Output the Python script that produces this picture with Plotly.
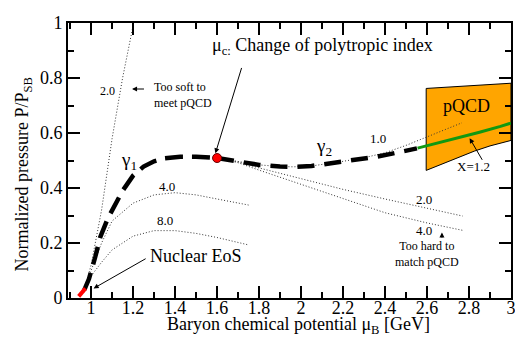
import plotly.graph_objects as go

# ---- data ----
nuc_x = [0.941, 0.973]
nuc_y = [0.006, 0.035]

g1_x = [0.968, 0.99, 1.02, 1.044, 1.08, 1.108, 1.15, 1.2, 1.25, 1.3, 1.35, 1.425, 1.5, 1.6]
g1_y = [0.030, 0.070, 0.150, 0.222, 0.290, 0.333, 0.390, 0.445, 0.478, 0.497, 0.508, 0.514, 0.514, 0.509]

g2_x = [1.6, 1.7, 1.8, 1.9, 1.965, 2.05, 2.124, 2.2, 2.28, 2.36, 2.44, 2.5, 2.552]
g2_y = [0.509, 0.497, 0.484, 0.478, 0.477, 0.480, 0.488, 0.494, 0.503, 0.514, 0.526, 0.535, 0.544]

h10_x = [1.6, 1.7, 1.8, 1.9, 1.965, 2.05, 2.124, 2.2, 2.3, 2.4, 2.5, 2.6, 2.7, 2.766]
h10_y = [0.509, 0.497, 0.484, 0.478, 0.477, 0.480, 0.488, 0.497, 0.510, 0.528, 0.555, 0.585, 0.615, 0.637]

s20_x = [0.965, 1.0, 1.05, 1.1, 1.15, 1.2]
s20_y = [0.02, 0.12, 0.32, 0.58, 0.80, 0.99]

s40_x = [0.975, 1.0, 1.05, 1.1, 1.2, 1.3, 1.4, 1.5, 1.6, 1.75]
s40_y = [0.04, 0.10, 0.20, 0.28, 0.345, 0.375, 0.383, 0.375, 0.36, 0.338]

s80_x = [0.975, 1.0, 1.05, 1.1, 1.2, 1.3, 1.4, 1.5, 1.6, 1.75]
s80_y = [0.04, 0.08, 0.13, 0.175, 0.225, 0.245, 0.245, 0.235, 0.22, 0.193]

h20_x = [1.6, 1.7, 1.8, 2.0, 2.2, 2.4, 2.6, 2.77]
h20_y = [0.509, 0.495, 0.473, 0.435, 0.395, 0.36, 0.327, 0.298]

h40_x = [1.6, 1.7, 1.8, 2.0, 2.2, 2.4, 2.6, 2.77]
h40_y = [0.509, 0.492, 0.465, 0.413, 0.36, 0.31, 0.273, 0.246]

green_x = [2.555, 2.65, 2.75, 2.85, 2.95, 3.0]
green_y = [0.545, 0.563, 0.583, 0.603, 0.624, 0.636]

pqcd_top_x = [2.596, 3.0]
pqcd_top_y = [0.762, 0.781]
pqcd_bot_x = [2.596, 2.666, 2.746, 2.825, 2.9, 3.0]
pqcd_bot_y = [0.464, 0.485, 0.509, 0.534, 0.553, 0.573]

muc_x = [1.6]
muc_y = [0.509]

x_ticks = [1, 1.2, 1.4, 1.6, 1.8, 2, 2.2, 2.4, 2.6, 2.8, 3]
y_ticks = [0, 0.2, 0.4, 0.6, 0.8, 1]

FONT = "Liberation Serif, Times New Roman, serif"
DOT = "1px,2px"

fig = go.Figure()

# pQCD band
poly_x = pqcd_top_x + pqcd_bot_x[::-1] + [pqcd_top_x[0]]
poly_y = pqcd_top_y + pqcd_bot_y[::-1] + [pqcd_top_y[0]]
fig.add_trace(go.Scatter(x=poly_x, y=poly_y, mode="lines", fill="toself",
                         fillcolor="#FFA500", line=dict(color="black", width=1)))

def dotted(xs, ys):
    fig.add_trace(go.Scatter(x=xs, y=ys, mode="lines",
                             line=dict(color="#333333", width=1, dash=DOT)))

for xs, ys in [(s20_x, s20_y), (s40_x, s40_y), (s80_x, s80_y),
               (h20_x, h20_y), (h40_x, h40_y), (h10_x, h10_y)]:
    dotted(xs, ys)

fig.add_trace(go.Scatter(x=green_x, y=green_y, mode="lines",
                         line=dict(color="#119911", width=3)))
fig.add_trace(go.Scatter(x=g1_x, y=g1_y, mode="lines",
                         line=dict(color="black", width=4.5, dash="18px,9px")))
fig.add_trace(go.Scatter(x=g2_x, y=g2_y, mode="lines",
                         line=dict(color="black", width=4.5, dash="17px,10px")))
fig.add_trace(go.Scatter(x=nuc_x, y=nuc_y, mode="lines",
                         line=dict(color="red", width=4)))
fig.add_trace(go.Scatter(x=muc_x, y=muc_y, mode="markers",
                         marker=dict(color="red", size=9, line=dict(color="#660000", width=1))))

def txt(x, y, s, size=13, xanchor="center", yanchor="middle", align="center"):
    fig.add_annotation(x=x, y=y, text=s, showarrow=False, xanchor=xanchor,
                       yanchor=yanchor, align=align,
                       font=dict(family=FONT, size=size, color="black"))

def arrow(x0, y0, x1, y1):
    fig.add_annotation(x=x1, y=y1, ax=x0, ay=y0, axref="x", ayref="y",
                       xref="x", yref="y", text="", showarrow=True,
                       arrowhead=2, arrowsize=1, arrowwidth=1, arrowcolor="black")

txt(1.568, 0.913, "μ<sub>c:</sub> Change of polytropic index", size=18, xanchor="left")
arrow(1.719, 0.842, 1.592, 0.526)
txt(1.18, 0.50, "γ<sub>1</sub>", size=19)
txt(2.11, 0.55, "γ<sub>2</sub>", size=19)
txt(2.365, 0.579, "1.0", size=13)
txt(2.79, 0.70, "pQCD", size=18)
txt(2.82, 0.477, "X=1.2", size=13)
arrow(2.867, 0.497, 2.803, 0.581)
txt(1.076, 0.754, "2.0", size=12)
txt(1.29, 0.74, "Too soft to<br>meet pQCD", size=12, xanchor="left", align="left")
arrow(1.259, 0.76, 1.195, 0.76)
txt(1.362, 0.407, "4.0", size=13)
txt(1.354, 0.283, "8.0", size=13)
txt(2.584, 0.36, "2.0", size=13)
txt(2.584, 0.246, "4.0", size=13)
txt(2.60, 0.159, "Too hard to<br>match pQCD", size=12)
arrow(2.671, 0.214, 2.671, 0.238)
txt(1.497, 0.152, "Nuclear EoS", size=18)
arrow(1.267, 0.146, 1.012, 0.035)

# axis titles
fig.add_annotation(x=0.521, y=-0.15, xref="paper", yref="paper", showarrow=False,
                   text="Baryon chemical potential μ<sub>B</sub> [GeV]",
                   font=dict(family=FONT, size=18, color="black"))
fig.add_annotation(x=-0.13, y=0.449, xref="paper", yref="paper", showarrow=False,
                   text="Normalized pressure P/P<sub>SB</sub>", textangle=-90,
                   font=dict(family=FONT, size=18, color="black"))

axis_common = dict(showgrid=False, zeroline=False, showline=True, linecolor="black",
                   linewidth=2, mirror="allticks", ticks="inside", ticklen=12,
                   tickwidth=1.5, tickcolor="black", ticklabeloverflow="allow",
                   tickfont=dict(family=FONT, size=18, color="black"))

fig.update_xaxes(range=[0.89, 3.0], tickvals=x_ticks,
                 ticktext=[str(v) for v in x_ticks], ticklabelstandoff=-8,
                 minor=dict(dtick=0.1, tick0=0.9, ticks="inside", ticklen=6,
                            tickwidth=1.5, tickcolor="black"),
                 **axis_common)
fig.update_yaxes(range=[0, 1.0], tickvals=y_ticks,
                 ticktext=[str(v) for v in y_ticks],
                 minor=dict(dtick=0.1, tick0=0, ticks="inside", ticklen=6,
                            tickwidth=1.5, tickcolor="black"),
                 **axis_common)

# page has an 8px body margin: shift and shrink the figure to compensate
fig.update_layout(width=515, height=340, showlegend=False,
                  font=dict(family=FONT, color="black"),
                  margin=dict(l=60, r=12, t=5, b=50),
                  paper_bgcolor="white", plot_bgcolor="white")

fig.write_html("out.html")
